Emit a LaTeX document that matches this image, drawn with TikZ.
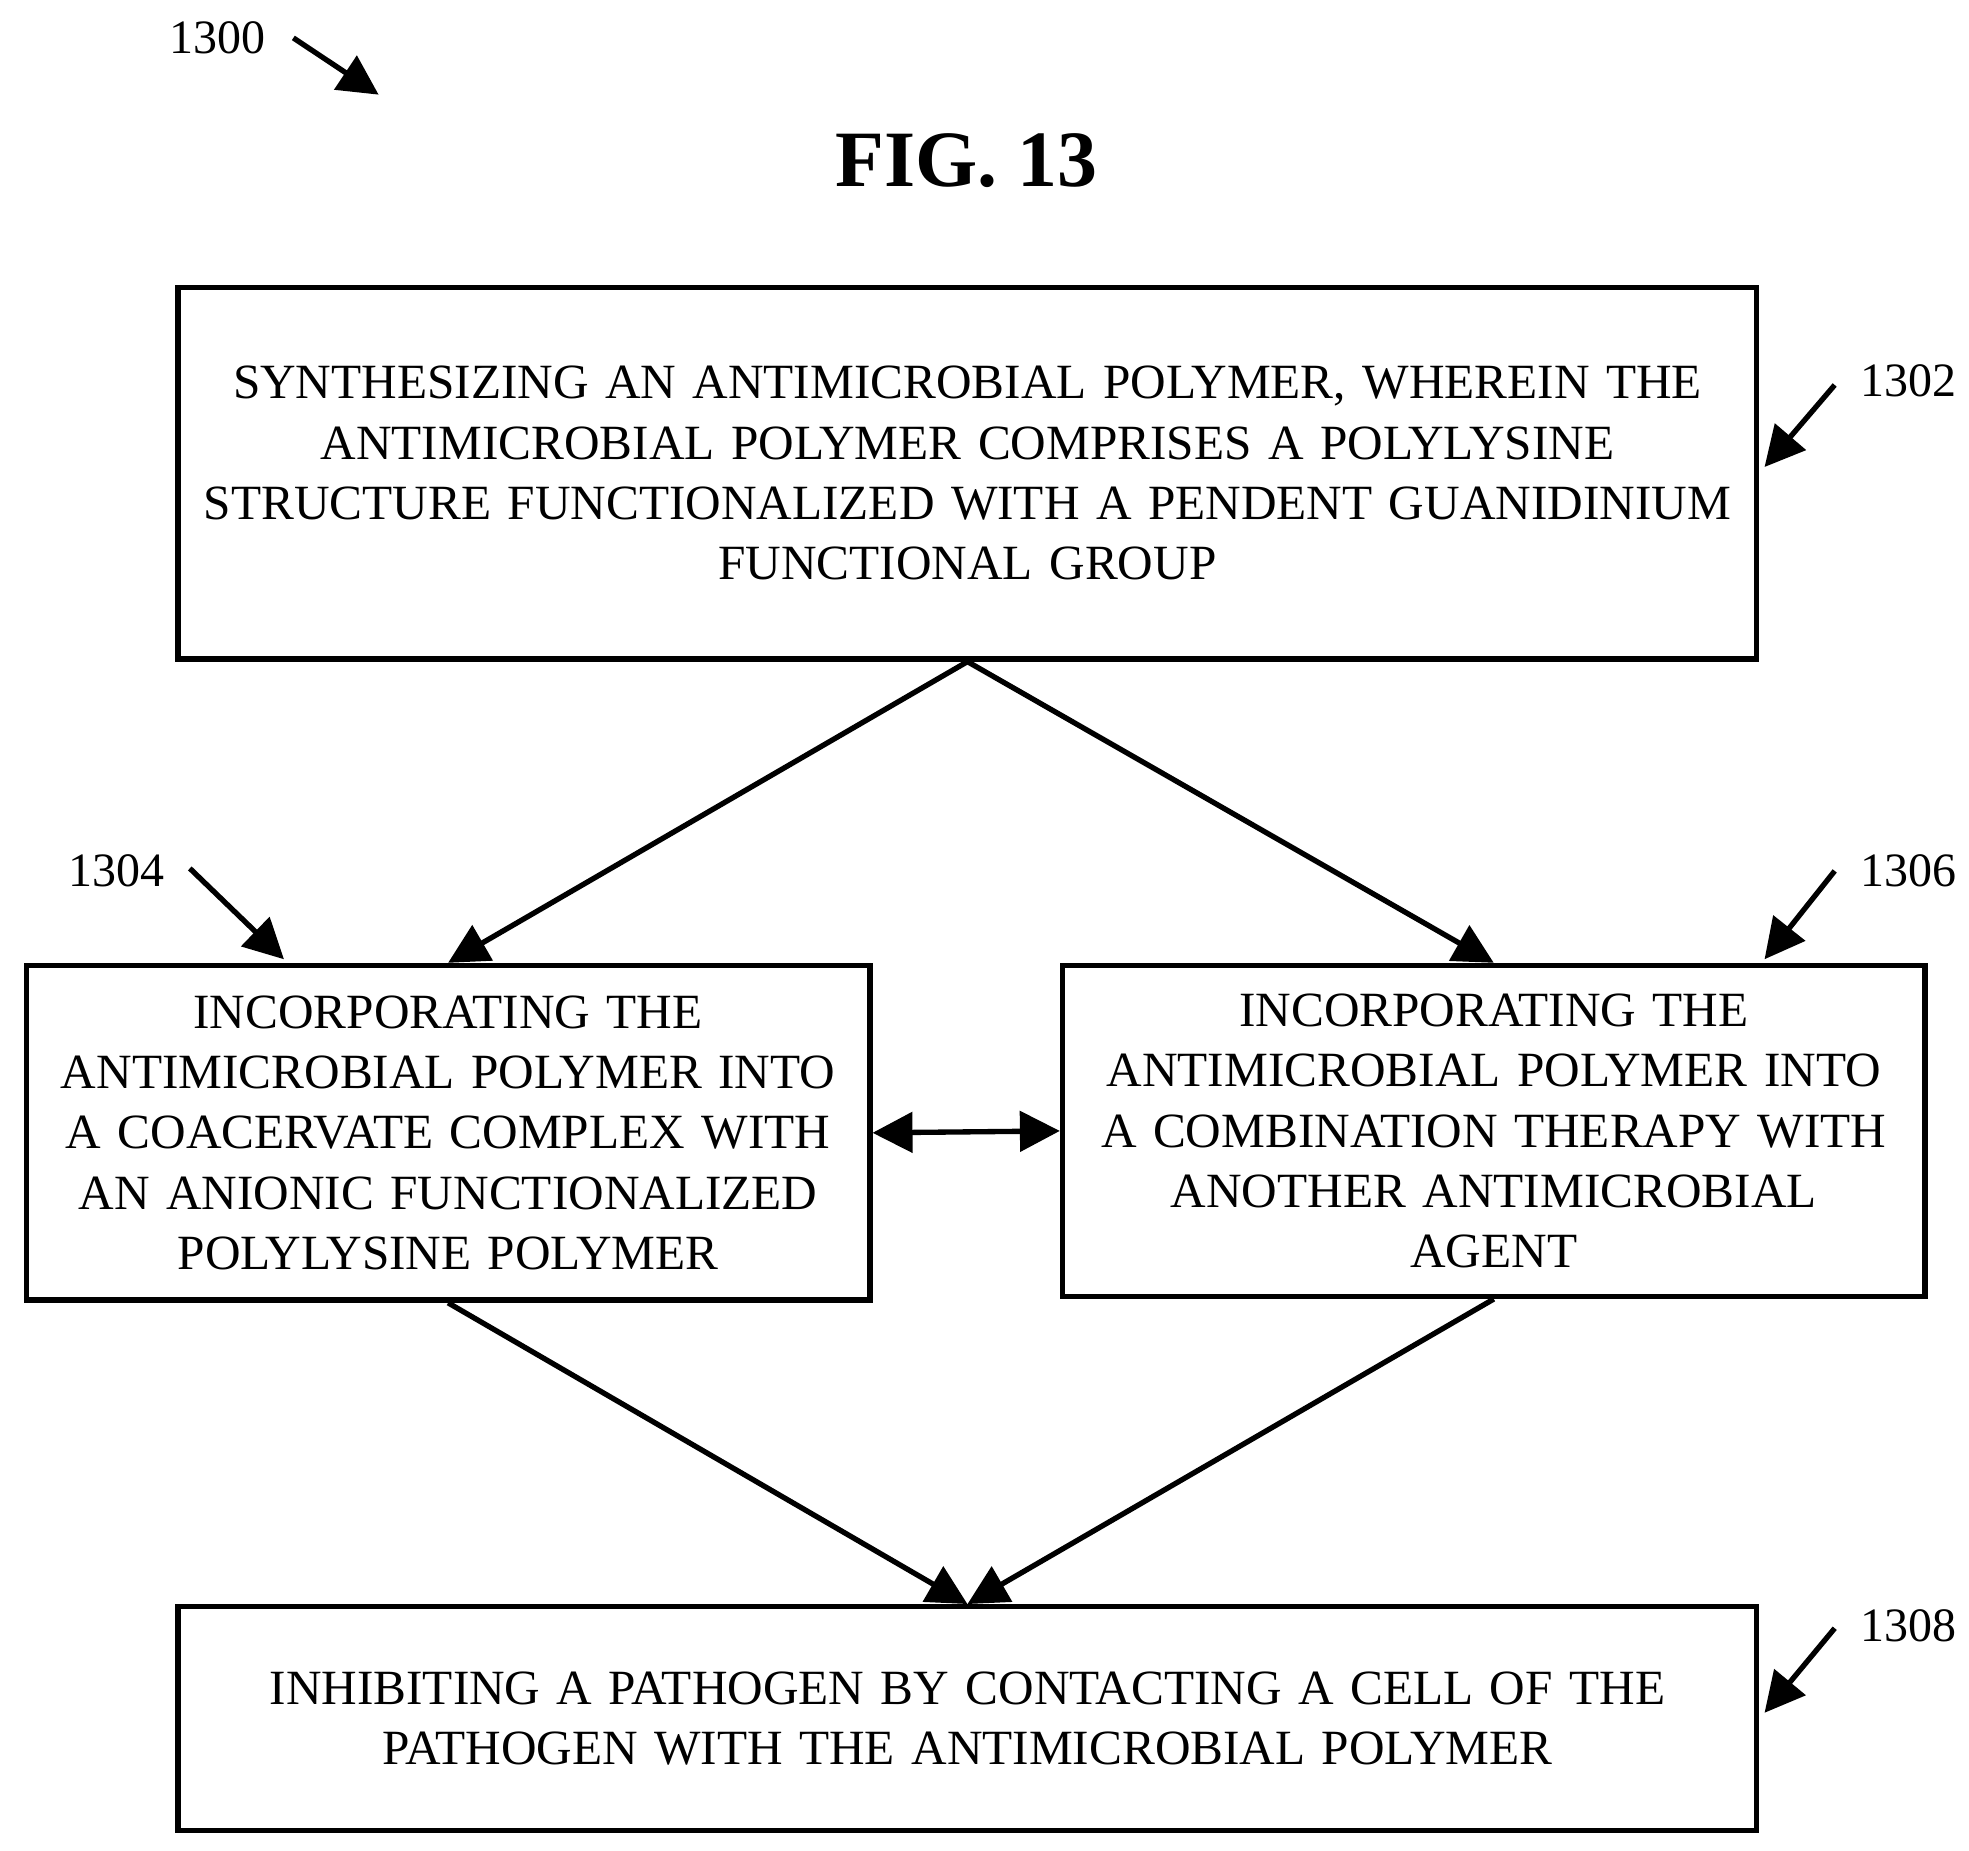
\documentclass[tikz,border=0pt]{standalone}
\usepackage{fontspec}
\setmainfont{Liberation Serif}
\usetikzlibrary{arrows.meta,positioning}
\tikzset{
    step/.style={draw, line width=1.2pt, minimum height=#1, align=center, inner sep=0pt,
                 font=\fontsize{11.1}{13.6}\selectfont},
    flow/.style={-{Triangle[length=9pt,width=9pt]}, line width=1.2pt},
    ref/.style={font=\fontsize{10.8}{12}\selectfont}
}
\begin{document}
\begin{tikzpicture}[x=0.01cm,y=-0.01cm]
    \useasboundingbox (0,0) rectangle (1560,1466);

    \node[ref] (n1300) at (172,30) {1300};
    \coordinate (p1300) at (300,75);
    \draw[flow] (n1300.east) ++(10,0) -- (p1300);

    \node[font=\bfseries\fontsize{18}{20}\selectfont] (title) at (766,127) {FIG. 13};

    \node[step=2.94cm, minimum width=12.5cm, text width=12.4cm] (s1302) at (766.5,375)
        {SYNTHESIZING AN ANTIMICROBIAL POLYMER, WHEREIN THE\\
         ANTIMICROBIAL POLYMER COMPRISES A POLYLYSINE\\
         STRUCTURE FUNCTIONALIZED WITH A PENDENT GUANIDINIUM\\
         FUNCTIONAL GROUP};
    \node[step=2.65cm, minimum width=6.68cm, text width=6.6cm] (s1304) at (355,897.5)
        {INCORPORATING THE\\
         ANTIMICROBIAL POLYMER INTO\\
         A COACERVATE COMPLEX WITH\\
         AN ANIONIC FUNCTIONALIZED\\
         POLYLYSINE POLYMER};
    \node[step=2.62cm, minimum width=6.83cm, text width=6.8cm] (s1306) at (1183.5,896)
        {INCORPORATING THE\\
         ANTIMICROBIAL POLYMER INTO\\
         A COMBINATION THERAPY WITH\\
         ANOTHER ANTIMICROBIAL\\
         AGENT};
    \node[step=1.77cm, minimum width=12.5cm, text width=12.4cm] (s1308) at (766.5,1361.5)
        {INHIBITING A PATHOGEN BY CONTACTING A CELL OF THE\\
         PATHOGEN WITH THE ANTIMICROBIAL POLYMER};

    % flow between the steps
    \draw[flow] (s1302.south) -- (s1304.north);
    \draw[flow] (s1302.south) -- (s1306.north);
    \draw[flow] (s1304.south) -- (s1308.north);
    \draw[flow] (s1306.south) -- (s1308.north);
    \draw[{Triangle[length=9pt,width=9pt]}-{Triangle[length=9pt,width=9pt]}, line width=1.2pt]
        (s1304.east) -- (s1306.west);

    % reference numerals
    \node[ref] (n1302) at (1512,302) {1302};
    \node[ref] (n1304) at (92,690) {1304};
    \node[ref] (n1306) at (1512,690) {1306};
    \node[ref] (n1308) at (1512,1288) {1308};
    \coordinate (p1302) at (1398,370);
    \coordinate (p1304) at (225,760);
    \coordinate (p1306) at (1398,760);
    \coordinate (p1308) at (1398,1357);
    \draw[flow] (n1302.west) ++(-8,3) -- (p1302);
    \draw[flow] (n1304.east) ++(8,-2) -- (p1304);
    \draw[flow] (n1306.west) ++(-8,0) -- (p1306);
    \draw[flow] (n1308.west) ++(-8,2) -- (p1308);
\end{tikzpicture}
\end{document}
